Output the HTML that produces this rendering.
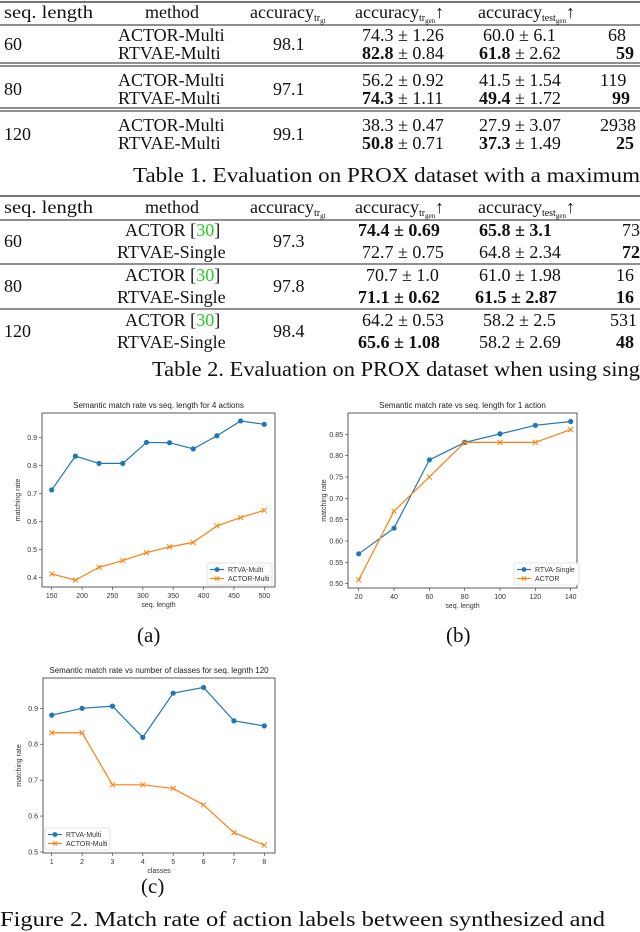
<!DOCTYPE html>
<html><head><meta charset="utf-8"><style>
html,body{margin:0;padding:0;background:#fff;}
svg{display:block;}
.t{font-family:"Liberation Serif",serif;font-size:18px;fill:#111;}
.b{font-weight:bold;}
.cap{font-family:"Liberation Serif",serif;font-size:21px;fill:#111;}
.sm{font-family:"Liberation Sans",sans-serif;font-size:7px;fill:#333;}
.ti{font-family:"Liberation Sans",sans-serif;font-size:8px;fill:#222;}
</style></head><body>
<svg id="root" width="640" height="932" viewBox="0 0 640 932" xmlns="http://www.w3.org/2000/svg">
<g>
<line x1="0" y1="2" x2="640" y2="2" stroke="#222" stroke-width="1.2"/>
<text class="t" x="4" y="18" textLength="89" lengthAdjust="spacingAndGlyphs">seq. length</text>
<text class="t" x="145" y="18">method</text>
<text class="t" x="250" y="18">accuracy<tspan font-size="10" dy="3">tr</tspan><tspan font-size="7" dy="2">gt</tspan></text>
<text class="t" x="355" y="18">accuracy<tspan font-size="10" dy="3">tr</tspan><tspan font-size="7" dy="2">gen</tspan><tspan dy="-5">↑</tspan></text>
<text class="t" x="478" y="18">accuracy<tspan font-size="10" dy="3">test</tspan><tspan font-size="7" dy="2">gen</tspan><tspan dy="-5">↑</tspan></text>
<line x1="0" y1="25" x2="640" y2="25" stroke="#222" stroke-width="1"/>
<text class="t" x="4" y="50">60</text>
<text class="t" x="118" y="41">ACTOR-Multi</text><text class="t" x="118" y="59">RTVAE-Multi</text>
<text class="t" x="273" y="50">98.1</text>
<text class="t" x="362" y="41">74.3 ± 1.26</text><text class="t" x="362" y="59"><tspan class="b">82.8</tspan> ± 0.84</text>
<text class="t" x="483" y="41">60.0 ± 6.1</text><text class="t" x="479" y="59"><tspan class="b">61.8</tspan> ± 2.62</text>
<text class="t" x="608" y="41">68</text><text class="t b" x="616" y="59">59</text>
<line x1="0" y1="63" x2="640" y2="63" stroke="#222" stroke-width="1"/><line x1="0" y1="66" x2="640" y2="66" stroke="#222" stroke-width="1"/>
<text class="t" x="4" y="95">80</text>
<text class="t" x="118" y="86">ACTOR-Multi</text><text class="t" x="118" y="104">RTVAE-Multi</text>
<text class="t" x="273" y="95">97.1</text>
<text class="t" x="362" y="86">56.2 ± 0.92</text><text class="t" x="362" y="104"><tspan class="b">74.3</tspan> ± 1.11</text>
<text class="t" x="479" y="86">41.5 ± 1.54</text><text class="t" x="479" y="104"><tspan class="b">49.4</tspan> ± 1.72</text>
<text class="t" x="600" y="86">119</text><text class="t b" x="612" y="104">99</text>
<line x1="0" y1="108" x2="640" y2="108" stroke="#222" stroke-width="1"/><line x1="0" y1="111" x2="640" y2="111" stroke="#222" stroke-width="1"/>
<text class="t" x="4" y="140">120</text>
<text class="t" x="118" y="131">ACTOR-Multi</text><text class="t" x="118" y="149">RTVAE-Multi</text>
<text class="t" x="273" y="140">99.1</text>
<text class="t" x="362" y="131">38.3 ± 0.47</text><text class="t" x="362" y="149"><tspan class="b">50.8</tspan> ± 0.71</text>
<text class="t" x="479" y="131">27.9 ± 3.07</text><text class="t" x="479" y="149"><tspan class="b">37.3</tspan> ± 1.49</text>
<text class="t" x="600" y="131">2938</text><text class="t b" x="616" y="149">25</text>
<text class="cap" x="133" y="182" textLength="507" lengthAdjust="spacingAndGlyphs">Table 1. Evaluation on PROX dataset with a maximum</text>
</g>
<g>
<line x1="0" y1="196" x2="640" y2="196" stroke="#222" stroke-width="1.2"/>
<text class="t" x="4" y="213" textLength="89" lengthAdjust="spacingAndGlyphs">seq. length</text>
<text class="t" x="145" y="213">method</text>
<text class="t" x="250" y="213">accuracy<tspan font-size="10" dy="3">tr</tspan><tspan font-size="7" dy="2">gt</tspan></text>
<text class="t" x="355" y="213">accuracy<tspan font-size="10" dy="3">tr</tspan><tspan font-size="7" dy="2">gen</tspan><tspan dy="-5">↑</tspan></text>
<text class="t" x="478" y="213">accuracy<tspan font-size="10" dy="3">test</tspan><tspan font-size="7" dy="2">gen</tspan><tspan dy="-5">↑</tspan></text>
<line x1="0" y1="220" x2="640" y2="220" stroke="#222" stroke-width="1"/>
<text class="t" x="4" y="247">60</text>
<text class="t" x="125" y="236">ACTOR [<tspan fill="#2c2">30</tspan>]</text><text class="t" x="117" y="258">RTVAE-Single</text>
<text class="t" x="273" y="247">97.3</text>
<text class="t b" x="358" y="236">74.4 ± 0.69</text><text class="t" x="362" y="258">72.7 ± 0.75</text>
<text class="t b" x="479" y="236">65.8 ± 3.1</text><text class="t" x="479" y="258">64.8 ± 2.34</text>
<text class="t" x="622" y="236">73</text><text class="t b" x="622" y="258">72</text>
<line x1="0" y1="264" x2="640" y2="264" stroke="#222" stroke-width="1"/>
<text class="t" x="4" y="292">80</text>
<text class="t" x="125" y="281">ACTOR [<tspan fill="#2c2">30</tspan>]</text><text class="t" x="117" y="303">RTVAE-Single</text>
<text class="t" x="273" y="292">97.8</text>
<text class="t" x="366" y="281">70.7 ± 1.0</text><text class="t b" x="358" y="303">71.1 ± 0.62</text>
<text class="t" x="479" y="281">61.0 ± 1.98</text><text class="t b" x="475" y="303">61.5 ± 2.87</text>
<text class="t" x="616" y="281">16</text><text class="t b" x="616" y="303">16</text>
<line x1="0" y1="309" x2="640" y2="309" stroke="#222" stroke-width="1"/>
<text class="t" x="4" y="337">120</text>
<text class="t" x="125" y="326">ACTOR [<tspan fill="#2c2">30</tspan>]</text><text class="t" x="117" y="348">RTVAE-Single</text>
<text class="t" x="273" y="337">98.4</text>
<text class="t" x="362" y="326">64.2 ± 0.53</text><text class="t b" x="358" y="348">65.6 ± 1.08</text>
<text class="t" x="483" y="326">58.2 ± 2.5</text><text class="t" x="479" y="348">58.2 ± 2.69</text>
<text class="t" x="610" y="326">531</text><text class="t b" x="616" y="348">48</text>
<text class="cap" x="152" y="376" textLength="488" lengthAdjust="spacingAndGlyphs">Table 2. Evaluation on PROX dataset when using sing</text>
</g>
<g id="charts"></g>
<text class="cap" x="137" y="642">(a)</text>
<text class="cap" x="446" y="642">(b)</text>
<text class="cap" x="141" y="893">(c)</text>
<text class="cap" x="0" y="926" textLength="605" lengthAdjust="spacingAndGlyphs">Figure 2.  Match rate of action labels between synthesized and</text>
</svg>
<script>
// Chart (a)
const aX = [150,189,228,267,306,344,383,422,461,500];
const aBlue = [0.713,0.834,0.808,0.808,0.883,0.882,0.860,0.907,0.960,0.948];
const aOrange = [0.412,0.390,0.436,0.460,0.488,0.509,0.525,0.584,0.614,0.640];
const aXTicks = [150,200,250,300,350,400,450,500];
const aYTicks = [0.4,0.5,0.6,0.7,0.8,0.9];
const aLegend = ["RTVA-Multi","ACTOR-Multi"];
// Chart (b)
const bX = [20,40,60,80,100,120,140];
const bBlue = [0.570,0.630,0.790,0.831,0.851,0.871,0.880];
const bOrange = [0.509,0.670,0.750,0.831,0.831,0.831,0.861];
const bXTicks = [20,40,60,80,100,120,140];
const bYTicks = [0.50,0.55,0.60,0.65,0.70,0.75,0.80,0.85];
const bLegend = ["RTVA-Single","ACTOR"];
// Chart (c)
const cX = [1,2,3,4,5,6,7,8];
const cBlue = [0.881,0.900,0.906,0.819,0.942,0.958,0.865,0.851];
const cOrange = [0.832,0.832,0.687,0.687,0.677,0.631,0.554,0.519];
const cXTicks = [1,2,3,4,5,6,7,8];
const cYTicks = [0.5,0.6,0.7,0.8,0.9];
const cLegend = ["RTVA-Multi","ACTOR-Multi"];

const NS="http://www.w3.org/2000/svg";
const host=document.getElementById('charts');
function mk(tag,attrs,parent){const e=document.createElementNS(NS,tag);for(const k in attrs)e.setAttribute(k,attrs[k]);parent.appendChild(e);return e;}

function chart(cfg){
  const g=mk('g',{},host);
  
  
  const sx=v=>cfg.px0+(v-cfg.x0)/(cfg.x1-cfg.x0)*(cfg.px1-cfg.px0);
  const sy=v=>cfg.py0+(v-cfg.y0)/(cfg.y1-cfg.y0)*(cfg.py1-cfg.py0);
  const box=mk('rect',{x:cfg.L,y:cfg.T,width:cfg.R-cfg.L,height:cfg.B-cfg.T,fill:'none',stroke:'#333','stroke-width':0.8},g);
  
  
  const t=mk('text',{x:(cfg.L+cfg.R)/2,y:cfg.T-5,'text-anchor':'middle',class:'ti'},g);t.textContent=cfg.title;
  
  
  cfg.xt.forEach(v=>{const x=sx(v);mk('line',{x1:x,x2:x,y1:cfg.B,y2:cfg.B+3,stroke:'#333','stroke-width':0.6},g);
    const l=mk('text',{x:x,y:cfg.B+11,'text-anchor':'middle',class:'sm'},g);l.textContent=String(v);
    
    });
  cfg.yt.forEach(v=>{const y=sy(v);mk('line',{x1:cfg.L-3,x2:cfg.L,y1:y,y2:y,stroke:'#333','stroke-width':0.6},g);
    const l=mk('text',{x:cfg.L-5,y:y+2.5,'text-anchor':'end',class:'sm'},g);l.textContent=v.toFixed(cfg.yd);
    
    });
  const xl=mk('text',{x:(cfg.L+cfg.R)/2,y:cfg.B+20,'text-anchor':'middle',class:'sm'},g);xl.textContent=cfg.xlab;
  
  
  const yx=cfg.L-22,yy=(cfg.T+cfg.B)/2;
  const yl=mk('text',{x:yx,y:yy,'text-anchor':'middle',class:'sm',transform:`rotate(-90 ${yx} ${yy})`},g);yl.textContent='matching rate';
  
  
  [[cfg.blue,'#1f77b4','o'],[cfg.orange,'#ff7f0e','x']].forEach(([ys,col,m],si)=>{
    const pts=cfg.xs.map((v,i)=>sx(v)+','+sy(ys[i])).join(' ');
    const pl=mk('polyline',{points:pts,fill:'none',stroke:col,'stroke-width':1.2},g);
    
    
    cfg.xs.forEach((v,i)=>{const x=sx(v),y=sy(ys[i]);let mark;
      if(m==='o'){mark=mk('circle',{cx:x,cy:y,r:2.6,fill:col},g);}
      else{mark=mk('path',{d:`M${x-2.5},${y-2.5}L${x+2.5},${y+2.5}M${x-2.5},${y+2.5}L${x+2.5},${y-2.5}`,stroke:col,'stroke-width':1},g);}
      
      
    });
  });
  const lg=mk('g',{},g);
  
  
  mk('rect',{x:cfg.lx,y:cfg.ly,width:65,height:22,fill:'#fff',stroke:'#ccc','stroke-width':0.6,rx:2},lg);
  [['#1f77b4','o'],['#ff7f0e','x']].forEach(([col,m],i)=>{const y=cfg.ly+6.5+i*9;
    mk('line',{x1:cfg.lx+3,x2:cfg.lx+17,y1:y,y2:y,stroke:col,'stroke-width':1.2},lg);
    if(m==='o')mk('circle',{cx:cfg.lx+10,cy:y,r:2.4,fill:col},lg);
    else mk('path',{d:`M${cfg.lx+8},${y-2}L${cfg.lx+12},${y+2}M${cfg.lx+8},${y+2}L${cfg.lx+12},${y-2}`,stroke:col,'stroke-width':1},lg);
    const e=mk('text',{x:cfg.lx+21,y:y+2.5,class:'sm'},lg);e.textContent=cfg.legend[i];
    
    
  });
}
chart({name:'chart-a',title:'Semantic match rate vs seq. length for 4 actions',L:42,R:275,T:413,B:587,
  x0:150,x1:500,px0:51.7,px1:264.3,y0:0.4,y1:0.9,py0:577.3,py1:437.7,xs:aX,blue:aBlue,orange:aOrange,
  xt:aXTicks,yt:aYTicks,yd:1,xlab:'seq. length',legend:aLegend,lx:207,ly:563});
chart({name:'chart-b',title:'Semantic match rate vs seq. length for 1 action',L:348,R:577,T:413,B:588,
  x0:20,x1:140,px0:358.7,px1:570.7,y0:0.5,y1:0.85,py0:583.7,py1:434.3,xs:bX,blue:bBlue,orange:bOrange,
  xt:bXTicks,yt:bYTicks,yd:2,xlab:'seq. length',legend:bLegend,lx:514,ly:563});
chart({name:'chart-c',title:'Semantic match rate vs number of classes for seq. legnth 120',L:43,R:275,T:678,B:853,
  x0:1,x1:8,px0:51.7,px1:264.3,y0:0.5,y1:0.9,py0:852,py1:708.3,xs:cX,blue:cBlue,orange:cOrange,
  xt:cXTicks,yt:cYTicks,yd:1,xlab:'classes',legend:cLegend,lx:45,ly:828});
</script>
</body></html>
